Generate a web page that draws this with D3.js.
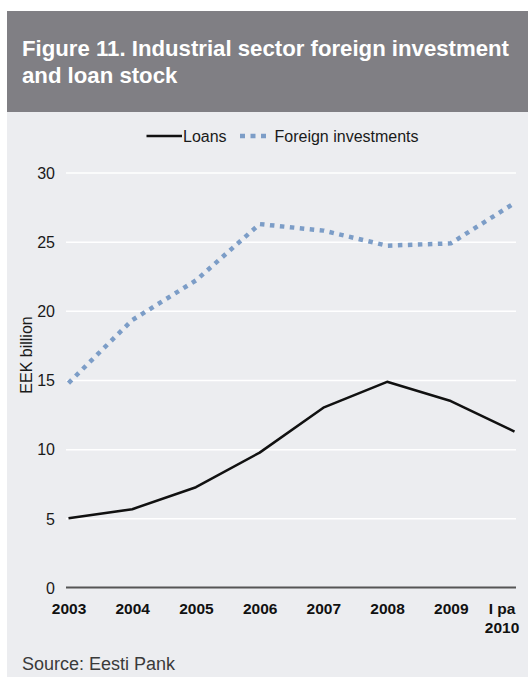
<!DOCTYPE html>
<html><head><meta charset="utf-8">
<script src="https://cdn.jsdelivr.net/npm/d3@7"></script>
<style>
html,body{margin:0;padding:0;background:#fff;}
svg{display:block;font-family:"Liberation Sans",Arial,Helvetica,sans-serif;}
</style></head>
<body>
<svg id="chart" width="528" height="678"></svg>
<script>
const categories = ["2003","2004","2005","2006","2007","2008","2009","I pa|2010"];
const loans = [5.0, 5.66, 7.25, 9.75, 13.0, 14.87, 13.48, 11.27];
const foreignInvestments = [14.78, 19.33, 22.2, 26.27, 25.8, 24.71, 24.88, 27.79];
const yTicks = [0, 5, 10, 15, 20, 25, 30];
const titleLines = ["Figure 11. Industrial sector foreign investment", "and loan stock"];
const seriesNames = ["Loans", "Foreign investments"];
const yLabel = "EEK billion";
const sourceText = "Source: Eesti Pank";

const svg = d3.select("#chart");

// panels
svg.append("rect").attr("x",7).attr("y",111).attr("width",521).attr("height",566).attr("fill","#ecedf0");
svg.append("rect").attr("x",7).attr("y",11).attr("width",521).attr("height",101).attr("fill","#807f84");

svg.append("g").selectAll("text").data(titleLines).join("text")
  .attr("x",22).attr("y",(d,i)=>55.5+i*27.2)
  .attr("fill","#fff").attr("font-size","22.2px").attr("font-weight","bold")
  .text(d=>d);

const x = d3.scalePoint().domain(categories).range([68.5, 514.5]);
const y = d3.scaleLinear().domain([0,30]).range([587.5, 172.5]);

// gridlines
const grid = d3.axisLeft(y).tickValues(yTicks.filter(v=>v>0)).tickSize(-450).tickFormat("");
svg.append("g").attr("transform","translate(66,0)").call(grid)
  .call(g=>g.select(".domain").remove())
  .call(g=>g.selectAll("line").attr("stroke","#ffffff").attr("stroke-width",1.5));

// y tick labels
const yAxis = d3.axisLeft(y).tickValues(yTicks).tickSize(0).tickPadding(0);
svg.append("g").attr("transform","translate(55,0)").call(yAxis)
  .call(g=>g.select(".domain").remove())
  .call(g=>g.selectAll("text").attr("font-size","16px").attr("fill","#1a1a1a")
     .attr("font-family","'Liberation Sans',Arial,sans-serif").attr("dy","0.36em"));

// zero line
svg.append("line").attr("x1",66).attr("x2",516).attr("y1",y(0)).attr("y2",y(0))
  .attr("stroke","#555").attr("stroke-width",2);

// x labels
const xAxis = d3.axisBottom(x).tickSize(0).tickPadding(0).tickFormat("");
const xg = svg.append("g").attr("transform",`translate(0,${y(0)})`).call(xAxis);
xg.select(".domain").remove();
xg.selectAll(".tick").each(function(d,i){
  const parts = d.split("|");
  const t = d3.select(this).append("text")
    .attr("fill","#111").attr("font-size","15.5px").attr("font-weight","bold")
    .attr("font-family","'Liberation Sans',Arial,sans-serif")
    .attr("text-anchor","middle")
    .attr("x", i===categories.length-1 ? -13 : 0);
  parts.forEach((p,j)=>{
    t.append("tspan").attr("x", i===categories.length-1 ? -13 : 0).attr("y",26.5+j*19).text(p);
  });
});

// lines
const line = d3.line().x((d,i)=>x(categories[i])).y(d=>y(d));
svg.append("path").datum(foreignInvestments).attr("d",line)
  .attr("fill","none").attr("stroke","#7c9dc7").attr("stroke-width",4.5)
  .attr("stroke-dasharray","4.5,5.5");
svg.append("path").datum(loans).attr("d",line)
  .attr("fill","none").attr("stroke","#111").attr("stroke-width",2.5)
  .attr("stroke-linejoin","round");

// legend
const lg = svg.append("g");
lg.append("line").attr("x1",146.5).attr("x2",182).attr("y1",136).attr("y2",136)
  .attr("stroke","#111").attr("stroke-width",2.5);
lg.append("text").attr("x",183).attr("y",141.5).attr("font-size","16px").attr("fill","#1a1a1a").text(seriesNames[0]);
lg.append("line").attr("x1",240).attr("x2",271).attr("y1",136).attr("y2",136)
  .attr("stroke","#7c9dc7").attr("stroke-width",4.5).attr("stroke-dasharray","5,5.5");
lg.append("text").attr("x",274.5).attr("y",141.5).attr("font-size","16px").attr("fill","#1a1a1a").text(seriesNames[1]);

// y label
svg.append("text").attr("transform","translate(31.5,355) rotate(-90)")
  .attr("text-anchor","middle").attr("font-size","16px").attr("fill","#1a1a1a").text(yLabel);

// source
svg.append("text").attr("x",22).attr("y",670).attr("font-size","18px").attr("fill","#3a3a3a").text(sourceText);
</script>
</body></html>
